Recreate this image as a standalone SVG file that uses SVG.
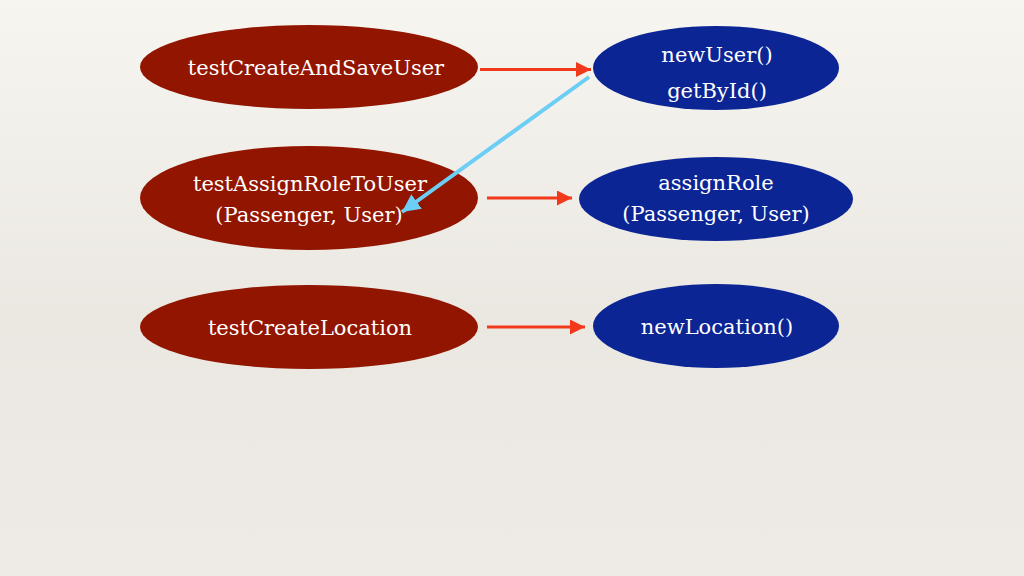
<svg xmlns="http://www.w3.org/2000/svg" width="1024" height="576" viewBox="0 0 1024 576">
<defs>
<linearGradient id="bg" x1="0" y1="0" x2="0" y2="1">
<stop offset="0" stop-color="#f7f5f0"/>
<stop offset="0.55" stop-color="#ebe8e2"/>
<stop offset="1" stop-color="#eeebe6"/>
</linearGradient>
<marker id="ar" viewBox="0 0 10 10" refX="10" refY="5" markerWidth="6" markerHeight="5" markerUnits="strokeWidth" orient="auto">
<path d="M0,0 L10,5 L0,10 Z" fill="#f2391b"/>
</marker>
<marker id="ab" viewBox="0 0 10 10" refX="10" refY="5" markerWidth="4.5" markerHeight="4.5" markerUnits="strokeWidth" orient="auto">
<path d="M0,0 L10,5 L0,10 Z" fill="#6ccdf5"/>
</marker>
</defs>
<style>
.red{fill:#921500}
.blue{fill:#0b2595}
text{font-family:"DejaVu Serif","Liberation Serif",serif;font-size:21px;fill:#ffffff;text-anchor:middle}
.rl{stroke:#f2391b;stroke-width:3;fill:none}
.bl{stroke:#6ccdf5;stroke-width:4;fill:none}
</style>
<rect width="1024" height="576" fill="url(#bg)"/>
<g id="n1"><ellipse class="red" cx="309" cy="67" rx="169" ry="42"/><text x="316" y="75">testCreateAndSaveUser</text></g>
<g id="n2"><ellipse class="red" cx="309" cy="198" rx="169" ry="52"/><text x="310" y="191">testAssignRoleToUser</text><text x="309" y="222">(Passenger, User)</text></g>
<g id="n3"><ellipse class="red" cx="309" cy="327" rx="169" ry="42"/><text x="310" y="335">testCreateLocation</text></g>
<g id="n4"><ellipse class="blue" cx="716" cy="68" rx="123" ry="42"/><text x="717" y="62">newUser()</text><text x="717" y="98">getById()</text></g>
<g id="n5"><ellipse class="blue" cx="716" cy="199" rx="137" ry="42"/><text x="716" y="190">assignRole</text><text x="716" y="221">(Passenger, User)</text></g>
<g id="n6"><ellipse class="blue" cx="716" cy="326" rx="123" ry="42"/><text x="717" y="334">newLocation()</text></g>
<g id="connectors">
<line class="rl" x1="480" y1="69.5" x2="591" y2="69.5" marker-end="url(#ar)"/>
<line class="rl" x1="487" y1="198" x2="572" y2="198" marker-end="url(#ar)"/>
<line class="rl" x1="487" y1="327" x2="585" y2="327" marker-end="url(#ar)"/>
<line class="bl" x1="589" y1="77" x2="402" y2="212" marker-end="url(#ab)"/>
</g>
</svg>
